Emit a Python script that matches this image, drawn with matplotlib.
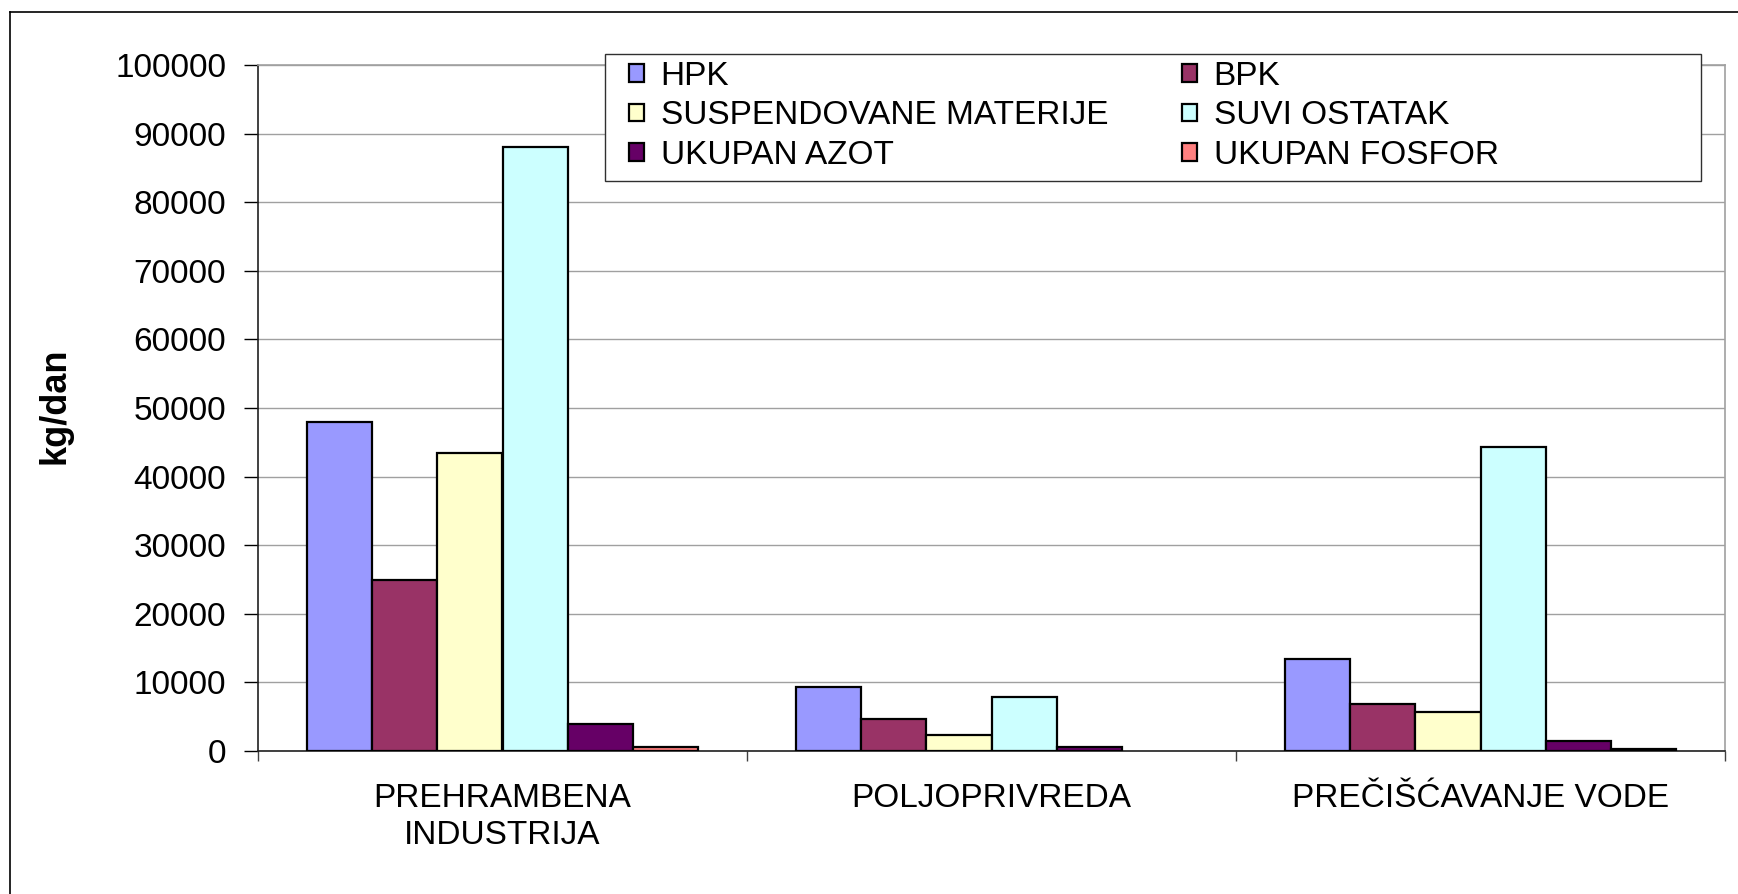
import numpy as np
import matplotlib.pyplot as plt
from matplotlib.lines import Line2D
from matplotlib.patches import Rectangle

plt.rcParams['font.family'] = ['Liberation Sans', 'DejaVu Sans']

# data (kg/dan)
categories = ['PREHRAMBENA\nINDUSTRIJA', 'POLJOPRIVREDA', 'PREČIŠĆAVANJE VODE']
series_names = ['HPK', 'BPK', 'SUSPENDOVANE MATERIJE', 'SUVI OSTATAK',
                'UKUPAN AZOT', 'UKUPAN FOSFOR']
hpk = [48000, 9400, 13400]
bpk = [25000, 4700, 6900]
suspendovane = [43500, 2400, 5700]
suvi_ostatak = [88000, 7900, 44300]
ukupan_azot = [3900, 600, 1400]
ukupan_fosfor = [650, 0, 300]
colors = ['#9999FF', '#993366', '#FFFFCC', '#CCFFFF', '#660066', '#FF8080']

values = [hpk, bpk, suspendovane, suvi_ostatak, ukupan_azot, ukupan_fosfor]

W, H = 1738, 894
FS = 24
fig = plt.figure(figsize=(W / 100, H / 100), dpi=100)
ax = fig.add_axes([258 / W, 1 - 751 / H, (1725 - 258) / W, (751 - 65) / H])

x = np.arange(len(categories))
bw = 0.8 / 6
handles = []
for i, (name, vals) in enumerate(zip(series_names, values)):
    vals = np.array(vals, dtype=float)
    vals[vals == 0] = np.nan  # nothing drawn in the reference
    b = ax.bar(x - 0.4 + bw * (i + 0.5), vals, width=bw, color=colors[i],
               edgecolor='black', linewidth=1.6, label=name, zorder=3)
    handles.append(b)

ax.set_xlim(-0.5, 2.5)
ax.set_ylim(0, 100000)
ax.set_yticks(np.arange(0, 100001, 10000))
ax.yaxis.grid(True, color='#a0a0a0', linewidth=1.0, zorder=0)
ax.set_axisbelow(True)

ax.set_xticks(x)
ax.set_xticklabels(categories, fontsize=FS, linespacing=1.25)
ax.set_xticks([-0.5, 0.5, 1.5, 2.5], minor=True)
ax.tick_params(axis='x', which='major', length=0, pad=23)
ax.tick_params(axis='x', which='minor', length=7, width=1.0, color='#404040', direction='out')
ax.tick_params(axis='y', labelsize=FS, length=10, width=1.0, direction='out', pad=13)

for s in ['left', 'bottom']:
    ax.spines[s].set_color('#202020')
    ax.spines[s].set_linewidth(1.2)
for s in ['right', 'top']:
    ax.spines[s].set_color('#a0a0a0')
    ax.spines[s].set_linewidth(1.2)

fig.text(55 / W, 1 - 406 / H, 'kg/dan', rotation=90, ha='center', va='center',
         fontsize=26, fontweight='bold')

# legend frame, then two legend columns placed like the original
fig.add_artist(Rectangle((605 / W, 1 - 181 / H), (1701 - 605) / W, (181 - 54) / H,
                         transform=fig.transFigure, facecolor='white',
                         edgecolor='#303030', linewidth=1.0, zorder=4))
leg_kw = dict(loc='upper left', borderaxespad=0, borderpad=0, fontsize=FS,
              frameon=False, handlelength=0.45, handleheight=0.45,
              handletextpad=0.5, labelspacing=0.25)
col1 = [0, 2, 4]
col2 = [1, 3, 5]
leg1 = fig.legend([handles[i] for i in col1], [series_names[i] for i in col1],
                  bbox_to_anchor=(629 / W, 1 - 61 / H), **leg_kw)
leg2 = fig.legend([handles[i] for i in col2], [series_names[i] for i in col2],
                  bbox_to_anchor=(1182 / W, 1 - 61 / H), **leg_kw)
leg1.set_zorder(5)
leg2.set_zorder(5)

# outer chart border (only left and top edges are inside the picture)
fig.add_artist(Line2D([10 / W, 10 / W], [0, 1 - 12 / H], color='black', linewidth=1.2))
fig.add_artist(Line2D([10 / W, 1], [1 - 12 / H, 1 - 12 / H], color='black', linewidth=1.2))

fig.savefig('out.png', dpi=100)
